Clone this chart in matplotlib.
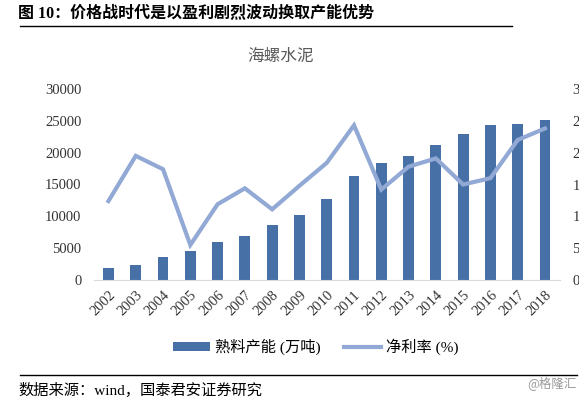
import matplotlib.pyplot as plt
from matplotlib.transforms import Bbox, TransformedBbox
import numpy as np

plt.rcParams['font.family'] = ['Liberation Serif', 'Noto Sans CJK SC']

years = ['2002', '2003', '2004', '2005', '2006', '2007', '2008', '2009', '2010',
         '2011', '2012', '2013', '2014', '2015', '2016', '2017', '2018']
capacity = [1950, 2300, 3650, 4550, 5900, 6900, 8600, 10200, 12700,
            16400, 18400, 19500, 21150, 22900, 24400, 24550, 25200]
net_margin = [12.4, 19.5, 17.4, 5.5, 11.9, 14.4, 11.1, 14.8, 18.4,
              24.3, 14.2, 17.8, 19.1, 15.0, 16.0, 22.0, 23.8]

bar_color = '#4670A6'
line_color = '#91A9D4'
W, H = 588, 399

fig = plt.figure(figsize=(W / 100, H / 100), dpi=100)

# title block
fig.text(18 / W, 1 - 14 / H, '图 10：价格战时代是以盈利剧烈波动换取产能优势',
         fontsize=11.5, fontweight='bold', va='center', ha='left')
fig.add_artist(plt.Line2D([20 / W, 512 / W], [1 - 26 / H, 1 - 26 / H],
                          color='black', lw=1))
fig.text(281 / W, 1 - 57 / H, '海螺水泥', fontsize=12, color='#595959',
         ha='center', va='center')

ax = fig.add_axes([94 / W, 1 - 280 / H, (560 - 94) / W, (280 - 89) / H])
x = np.arange(len(years))
ax.bar(x, capacity, width=0.4, color=bar_color, label='熟料产能 (万吨)')
ax.set_xlim(-0.53, len(years) - 0.45)
ax.set_ylim(0, 30000)
ax.set_yticks(range(0, 30001, 5000))
ax.set_xticks(x)
ax.set_xticklabels(years, rotation=45, ha='right', rotation_mode='anchor')
for s in ['top', 'left', 'right']:
    ax.spines[s].set_visible(False)
ax.spines['bottom'].set_color('#D9D9D9')
ax.tick_params(axis='both', length=0, labelsize=10.5, colors='#333333')
ax.tick_params(axis='y', pad=9)
ax.tick_params(axis='x', pad=6)

ax2 = ax.twinx()
ax2.plot(x, net_margin, color=line_color, lw=3, label='净利率 (%)',
         solid_joinstyle='miter')
ax2.set_ylim(0, 30)
ax2.set_yticks(range(0, 31, 5))
for s in ['top', 'left', 'right', 'bottom']:
    ax2.spines[s].set_visible(False)
ax2.tick_params(axis='y', length=0, labelsize=10.5, colors='#333333', pad=9)

# the source image is cut just right of the secondary axis labels
clip = TransformedBbox(Bbox([[0, 0], [579 / W, 1]]), fig.transFigure)
fig.canvas.draw()
for lab in ax2.get_yticklabels():
    lab.set_clip_on(True)
    lab.set_clip_box(clip)

h1, l1 = ax.get_legend_handles_labels()
h2, l2 = ax2.get_legend_handles_labels()
fig.legend(h1 + h2, l1 + l2, loc='center', bbox_to_anchor=(316 / W, 1 - 347 / H),
           ncol=2, frameon=False, fontsize=11, handlelength=2.4,
           handletextpad=0.35, columnspacing=1.5, handleheight=0.55)

fig.add_artist(plt.Line2D([20 / W, 577 / W], [1 - 375 / H, 1 - 375 / H],
                          color='black', lw=1))
fig.text(18 / W, 1 - 390 / H, '数据来源：wind，国泰君安证券研究', fontsize=11,
         ha='left', va='center')
fig.text(577 / W, 1 - 383 / H, '@格隆汇', fontsize=9, color='#9A9A9A',
         ha='right', va='center', family=['Noto Sans CJK SC'])

fig.savefig('out.png', dpi=100)
